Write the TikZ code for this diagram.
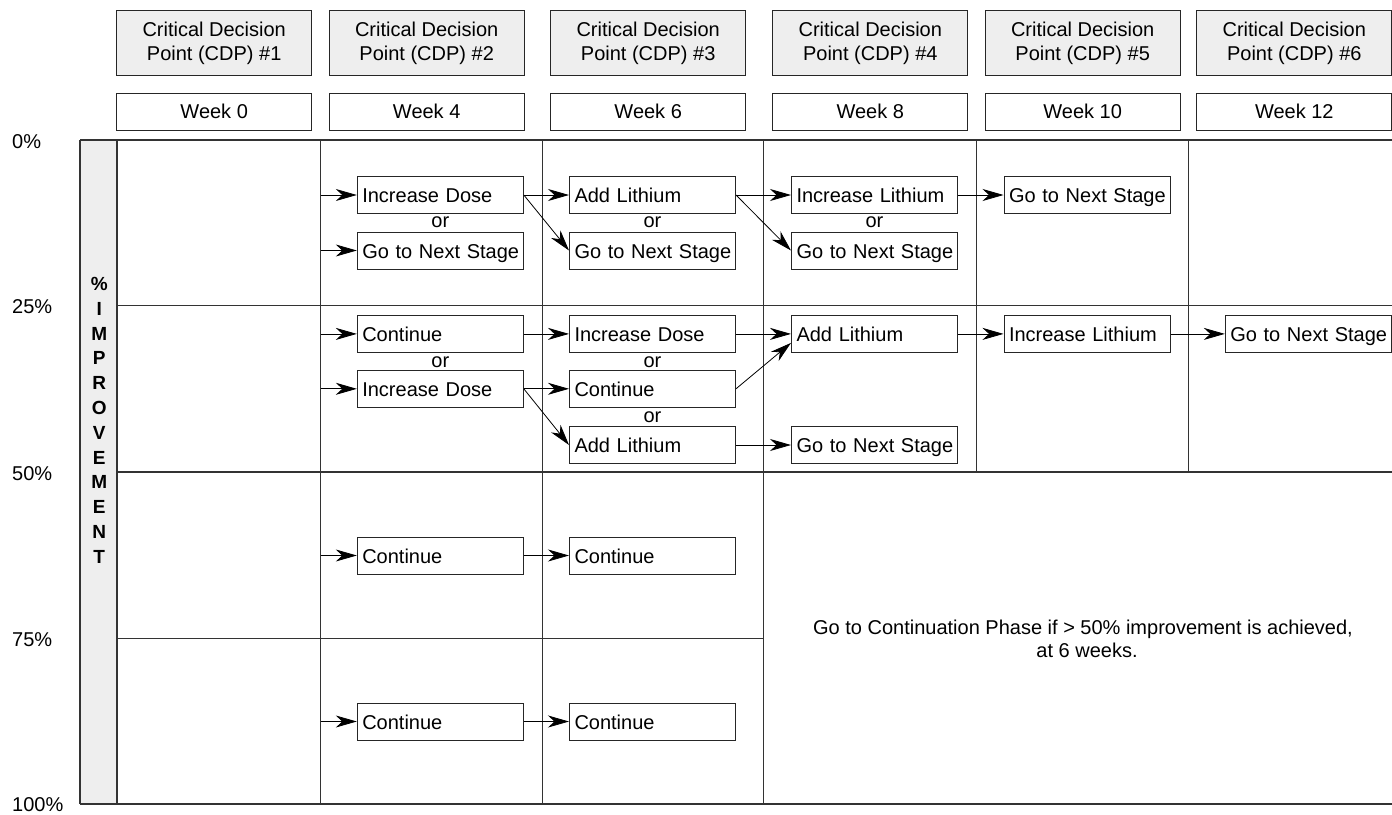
\documentclass[tikz,border=0pt]{standalone}
\usepackage{fontspec}
\setmainfont{Liberation Sans}
\usetikzlibrary{arrows.meta}
\definecolor{hdrgray}{HTML}{EEEEEE}
\definecolor{gridc}{HTML}{333333}
\begin{document}
\begin{tikzpicture}[x=1pt,y=-1pt,
  txt/.style={font=\fontsize{20}{24.3}\selectfont},
  hdr/.style={txt, draw=black!85, line width=1pt, fill=hdrgray, minimum width=195pt, minimum height=64.6pt, inner sep=0pt, align=center},
  wk/.style={txt, draw=black!85, line width=1pt, fill=white, minimum width=195pt, minimum height=37pt, inner sep=0pt},
  opt/.style={txt, draw=black!85, line width=1pt, fill=white, text width=156pt, inner xsep=5pt, inner ysep=0pt, minimum height=37pt, align=left, text height=16pt, text depth=0.7pt},
  ortxt/.style={txt, inner sep=0pt},
  arr/.style={-{Stealth[length=21pt,width=12pt,inset=6.5pt]}, line width=0.8pt},
  gridl/.style={draw=gridc, line width=1.3pt},
  pct/.style={txt, anchor=west, inner sep=0pt},
  vlet/.style={font=\bfseries\fontsize{19}{20}\selectfont, inner sep=0pt}
]
\useasboundingbox (0,0) rectangle (1392,814);
% left panel
\fill[hdrgray] (80,140) rectangle (117,804);
\draw[gridl] (80,140) -- (80,804);
% grid
\draw[gridl] (80,140) -- (1392,140);
\draw[gridl] (80,804) -- (1392,804);
\draw[gridl] (117,305.7) -- (1392,305.7);
\draw[gridl] (117,472) -- (1392,472);
\draw[gridl] (117,638.5) -- (763.3,638.5);
\draw[gridl] (117,140) -- (117,804);
\draw[gridl] (320.7,140) -- (320.7,804);
\draw[gridl] (542.3,140) -- (542.3,804);
\draw[gridl] (763.3,140) -- (763.3,804);
\draw[gridl] (976.3,140) -- (976.3,472);
\draw[gridl] (1188.3,140) -- (1188.3,472);
% headers
\node[hdr] (h1) at (214.2,43) {Critical Decision\\Point (CDP) \#1};
\node[hdr] (h2) at (426.7,43) {Critical Decision\\Point (CDP) \#2};
\node[hdr] (h3) at (648.2,43) {Critical Decision\\Point (CDP) \#3};
\node[hdr] (h4) at (870.3,43) {Critical Decision\\Point (CDP) \#4};
\node[hdr] (h5) at (1082.7,43) {Critical Decision\\Point (CDP) \#5};
\node[hdr] (h6) at (1294.3,43) {Critical Decision\\Point (CDP) \#6};
\node[wk] (w1) at (214.2,111.8) {Week 0};
\node[wk] (w2) at (426.7,111.8) {Week 4};
\node[wk] (w3) at (648.2,111.8) {Week 6};
\node[wk] (w4) at (870.3,111.8) {Week 8};
\node[wk] (w5) at (1082.7,111.8) {Week 10};
\node[wk] (w6) at (1294.3,111.8) {Week 12};
% percent labels
\node[pct] (p0) at (12,141.7) {0\%};
\node[pct] (p1) at (12,307) {25\%};
\node[pct] (p2) at (12,473.3) {50\%};
\node[pct] (p3) at (12,640) {75\%};
\node[pct] (p4) at (12,805) {100\%};
% vertical label
\foreach \ch [count=\i from 0] in {\%,I,M,P,R,O,V,E,M,E,N,T}
  \node[vlet] (v\i) at (99.3,284+24.8*\i) {\ch};
% start coordinates on the CDP#2 line
\coordinate (s1) at (320.7,195);
\coordinate (s2) at (320.7,250.5);
\coordinate (s3) at (320.7,333.9);
\coordinate (s4) at (320.7,388.8);
\coordinate (s5) at (320.7,555.5);
\coordinate (s6) at (320.7,721.5);
% row 1
\node[opt] (id2) at (440.3,195) {Increase Dose};
\node[ortxt] (or1) at (440.3,222.5) {or};
\node[opt] (gn2) at (440.3,250.5) {\mbox{Go to Next Stage}};
\node[opt] (al3) at (652.5,195) {Add Lithium};
\node[ortxt] (or2) at (652.5,222.5) {or};
\node[opt] (gn3) at (652.5,250.5) {\mbox{Go to Next Stage}};
\node[opt] (il4) at (874.5,195) {\mbox{Increase Lithium}};
\node[ortxt] (or3) at (874.5,222.5) {or};
\node[opt] (gn4) at (874.5,250.5) {\mbox{Go to Next Stage}};
\node[opt] (gn5) at (1087,195) {\mbox{Go to Next Stage}};
% row 2
\node[opt] (co2) at (440.3,333.9) {Continue};
\node[ortxt] (or4) at (440.3,361.8) {or};
\node[opt] (id2b) at (440.3,388.8) {Increase Dose};
\node[opt] (id3) at (652.5,333.9) {Increase Dose};
\node[ortxt] (or5) at (652.5,361.8) {or};
\node[opt] (co3) at (652.5,388.8) {Continue};
\node[ortxt] (or6) at (652.5,417.2) {or};
\node[opt] (al3b) at (652.5,445) {Add Lithium};
\node[opt] (al4) at (874.5,333.9) {Add Lithium};
\node[opt] (gn4b) at (874.5,445) {\mbox{Go to Next Stage}};
\node[opt] (il5) at (1087,333.9) {\mbox{Increase Lithium}};
\node[opt] (gn6) at (1308.3,333.9) {\mbox{Go to Next Stage}};
% rows 3 and 4
\node[opt] (co2c) at (440.3,555.5) {Continue};
\node[opt] (co3c) at (652.5,555.5) {Continue};
\node[opt] (co2d) at (440.3,721.5) {Continue};
\node[opt] (co3d) at (652.5,721.5) {Continue};
% bottom text
\node[txt, anchor=base, inner sep=0pt] (t1) at (1083,634.5) {Go to Continuation Phase if > 50\% improvement is achieved,};
\node[txt, anchor=base, inner sep=0pt] (t2) at (1087,657.5) {at 6 weeks.};
% arrows row 1
\draw[arr] (s1) -- (id2.west);
\draw[arr] (s2) -- (gn2.west);
\draw[arr] (id2.east) -- (al3.west);
\draw[arr] (id2.east) -- (gn3.west);
\draw[arr] (al3.east) -- (il4.west);
\draw[arr] (al3.east) -- (gn4.west);
\draw[arr] (il4.east) -- (gn5.west);
% arrows row 2
\draw[arr] (s3) -- (co2.west);
\draw[arr] (s4) -- (id2b.west);
\draw[arr] (co2.east) -- (id3.west);
\draw[arr] (id2b.east) -- (co3.west);
\draw[arr] (id2b.east) -- (al3b.west);
\draw[arr] (id3.east) -- (al4.west);
\draw[arr] (co3.east) -- ([yshift=-9pt]al4.west);
\draw[arr] (al3b.east) -- (gn4b.west);
\draw[arr] (al4.east) -- (il5.west);
\draw[arr] (il5.east) -- (gn6.west);
% arrows rows 3, 4
\draw[arr] (s5) -- (co2c.west);
\draw[arr] (co2c.east) -- (co3c.west);
\draw[arr] (s6) -- (co2d.west);
\draw[arr] (co2d.east) -- (co3d.west);
\end{tikzpicture}
\end{document}
